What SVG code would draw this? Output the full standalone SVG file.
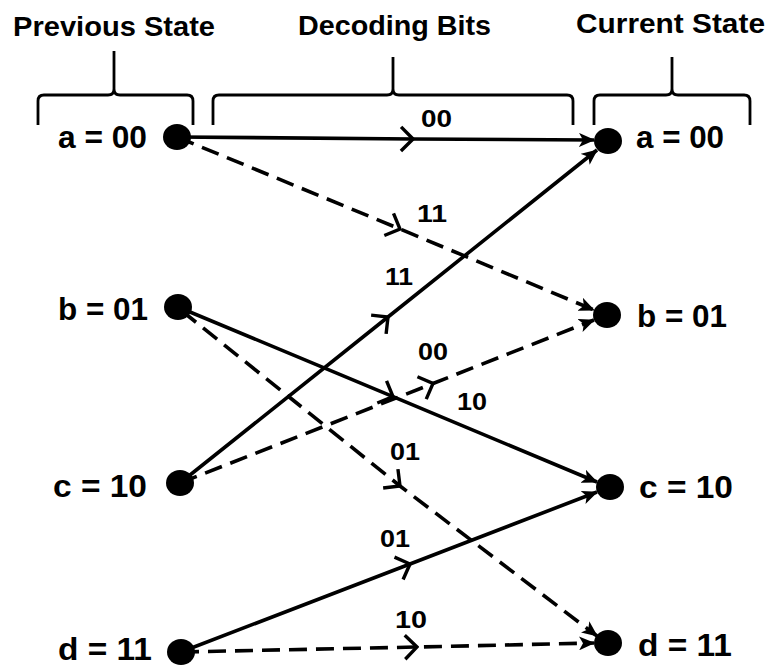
<svg xmlns="http://www.w3.org/2000/svg" width="769" height="666" viewBox="0 0 769 666">
<defs>
<style>
.hdr{font-family:"Liberation Sans",Arial,sans-serif;font-weight:bold;font-size:28px;fill:#000}
.lbl{font-family:"Liberation Sans",Arial,sans-serif;font-weight:bold;font-size:31px;fill:#000}
.bit{font-family:"Liberation Sans",Arial,sans-serif;font-weight:bold;font-size:24px;fill:#000}
.brace{fill:none;stroke:#000;stroke-width:2.8}
.edge{fill:none;stroke:#000;stroke-width:3.6;marker-mid:url(#chev);marker-end:url(#head)}
.dash{stroke-dasharray:18 9}
.node{fill:#000}
</style>
<marker id="chev" markerUnits="userSpaceOnUse" viewBox="0 0 16 28" markerWidth="16" markerHeight="28" refX="14" refY="14" orient="auto">
<path d="M2,2 L14,14 L2,26" fill="none" stroke="#000" stroke-width="3.4"/>
</marker>
<marker id="head" markerUnits="userSpaceOnUse" viewBox="0 0 16 14" markerWidth="16" markerHeight="14" refX="15" refY="7" orient="auto">
<path d="M0,0 L16,7 L0,14 L4,7 Z" fill="#000"/>
</marker>
</defs>
<rect width="769" height="666" fill="#fff"/>
<g id="headers">
<text class="hdr" x="13" y="36" textLength="202" lengthAdjust="spacingAndGlyphs">Previous State</text>
<text class="hdr" x="298" y="35" textLength="193" lengthAdjust="spacingAndGlyphs">Decoding Bits</text>
<text class="hdr" x="576" y="33" textLength="189" lengthAdjust="spacingAndGlyphs">Current State</text>
</g>
<g id="braces">
<path class="brace" d="M38,125 V101 Q38,95 44,95 H108 Q114,95 114,89 V51 M114,89 Q114,95 120,95 H187 Q193,95 193,101 V125"/>
<path class="brace" d="M213,125 V101 Q213,95 219,95 H387 Q393,95 393,89 V57 M393,89 Q393,95 399,95 H567 Q573,95 573,101 V125"/>
<path class="brace" d="M594,125 V101 Q594,95 600,95 H666 Q672,95 672,89 V57 M672,89 Q672,95 678,95 H744 Q750,95 750,101 V125"/>
</g>
<g id="connectors">
<path class="edge" d="M177,137 L413,139 L594,140"/>
<path class="edge dash" d="M177,137 L400,229 L594,310"/>
<path class="edge" d="M180,483 L388,317 L597,150"/>
<path class="edge dash" d="M180,483 L433,383.5 L594,320"/>
<path class="edge" d="M178,307 L393,396.6 L597,482"/>
<path class="edge dash" d="M182,311 L400,486 L597,636"/>
<path class="edge" d="M181,652 L410,564 L597,492"/>
<path class="edge dash" d="M181,652 L417,647 L594,643"/>
</g>
<g id="edge-labels">
<text class="bit" x="421" y="127" textLength="31" lengthAdjust="spacingAndGlyphs">00</text>
<text class="bit" x="417" y="222" textLength="30" lengthAdjust="spacingAndGlyphs">11</text>
<text class="bit" x="385" y="285" textLength="28" lengthAdjust="spacingAndGlyphs">11</text>
<text class="bit" x="418" y="360" textLength="30" lengthAdjust="spacingAndGlyphs">00</text>
<text class="bit" x="457" y="410" textLength="30" lengthAdjust="spacingAndGlyphs">10</text>
<text class="bit" x="390" y="460" textLength="30" lengthAdjust="spacingAndGlyphs">01</text>
<text class="bit" x="380" y="547" textLength="30" lengthAdjust="spacingAndGlyphs">01</text>
<text class="bit" x="395" y="628" textLength="32" lengthAdjust="spacingAndGlyphs">10</text>
</g>
<g id="prev-a"><ellipse class="node" cx="177" cy="137" rx="14" ry="13"/><text class="lbl" x="58" y="148" textLength="89" lengthAdjust="spacingAndGlyphs">a = 00</text></g>
<g id="prev-b"><ellipse class="node" cx="178" cy="307" rx="14" ry="13"/><text class="lbl" x="58" y="320" textLength="90" lengthAdjust="spacingAndGlyphs">b = 01</text></g>
<g id="prev-c"><ellipse class="node" cx="180" cy="483" rx="14" ry="13"/><text class="lbl" x="53" y="497" textLength="94" lengthAdjust="spacingAndGlyphs">c = 10</text></g>
<g id="prev-d"><ellipse class="node" cx="181" cy="652" rx="14" ry="13"/><text class="lbl" x="58" y="660" font-size="29" textLength="94" lengthAdjust="spacingAndGlyphs">d = 11</text></g>
<g id="cur-a"><ellipse class="node" cx="608" cy="141" rx="14" ry="13"/><text class="lbl" x="636" y="148" textLength="88" lengthAdjust="spacingAndGlyphs">a = 00</text></g>
<g id="cur-b"><ellipse class="node" cx="607" cy="315" rx="14" ry="13"/><text class="lbl" x="637" y="327" textLength="90" lengthAdjust="spacingAndGlyphs">b = 01</text></g>
<g id="cur-c"><ellipse class="node" cx="610" cy="487" rx="14" ry="13"/><text class="lbl" x="639" y="498" textLength="94" lengthAdjust="spacingAndGlyphs">c = 10</text></g>
<g id="cur-d"><ellipse class="node" cx="608" cy="643" rx="14" ry="13"/><text class="lbl" x="638" y="656" textLength="94" lengthAdjust="spacingAndGlyphs">d = 11</text></g>
</svg>
